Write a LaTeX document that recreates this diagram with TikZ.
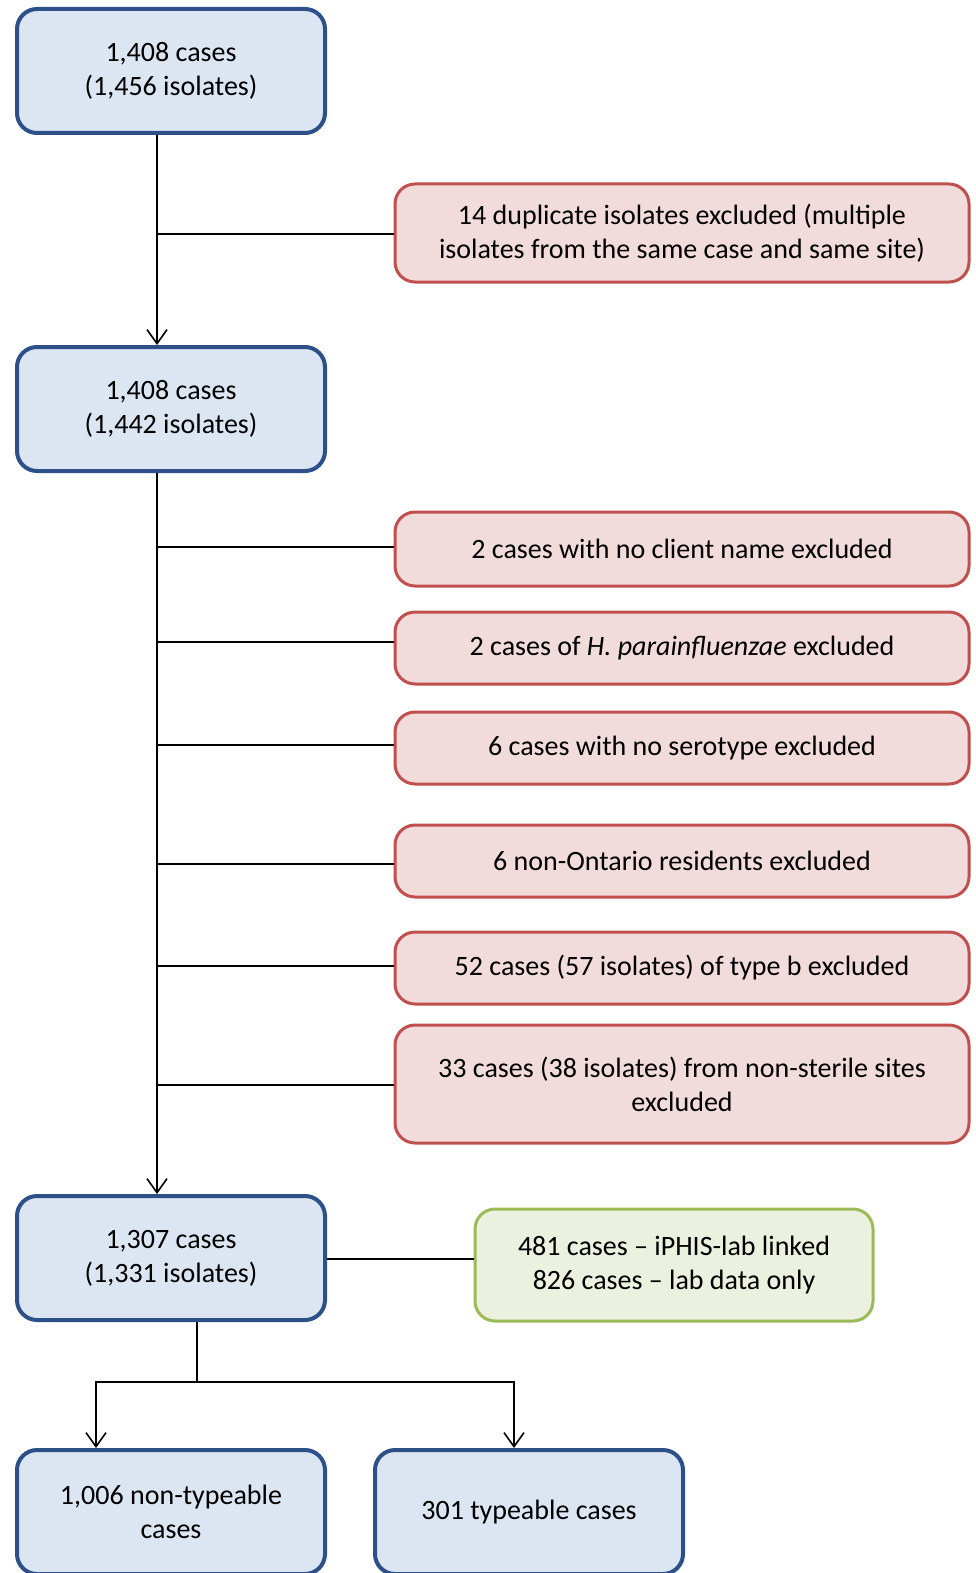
\documentclass[tikz,border=0pt]{standalone}
\usepackage{fontspec}
\setmainfont{Carlito}
\usetikzlibrary{arrows.meta, positioning}
\definecolor{casefill}{HTML}{DCE6F2}
\definecolor{casedraw}{HTML}{2C5087}
\definecolor{exclfill}{HTML}{F2DCDB}
\definecolor{excldraw}{HTML}{C0504D}
\definecolor{linkfill}{HTML}{EBF1DE}
\definecolor{linkdraw}{HTML}{9BBB59}
\tikzset{
    x=0.5pt, y=-0.5pt,
    box/.style = {rectangle, rounded corners=10pt, inner sep=0pt, align=center,
                  font=\fontsize{14}{17}\selectfont},
    cases/.style = {box, draw=casedraw, fill=casefill, line width=2pt,
                    minimum width=154pt, minimum height=62pt},
    excl/.style = {box, draw=excldraw, fill=exclfill, line width=1.5pt,
                   minimum width=287pt}, % red boxes on the right
    linked/.style = {box, draw=linkdraw, fill=linkfill, line width=1.5pt,
                     minimum width=199pt, minimum height=56pt},
    conn/.style = {line width=0.8pt},
    arr/.style = {conn, -{Straight Barb[length=7pt, width=10pt, line width=0.8pt]}}
}
\begin{document}
\begin{tikzpicture}
    \useasboundingbox (0,0) rectangle (975,1573);
    \clip (0,0) rectangle (975,1573);
    % main column
    \node[cases] (c1) at (171,71) {1,408 cases\\(1,456 isolates)};
    \node[cases] (c2) at (171,409) {1,408 cases\\(1,442 isolates)};
    \node[cases] (c3) at (171,1258) {1,307 cases\\(1,331 isolates)};
    \node[cases] (c4) at (171,1512) {1,006 non-typeable\\cases};
    \node[cases] (c5) at (529,1512) {301 typeable cases};
    \coordinate (trunk) at (157,0);
    % exclusions
    \node[excl, minimum height=49pt] (e1) at (682,233) {14 duplicate isolates excluded (multiple\\isolates from the same case and same site)};
    \node[excl, minimum height=37pt] (e2) at (682,549) {2 cases with no client name excluded};
    \node[excl, minimum height=36pt] (e3) at (682,648) {2 cases of \textit{H. parainfluenzae} excluded};
    \node[excl, minimum height=36pt] (e4) at (682,748) {6 cases with no serotype excluded};
    \node[excl, minimum height=36pt] (e5) at (682,861) {6 non-Ontario residents excluded};
    \node[excl, minimum height=36pt] (e6) at (682,968) {52 cases (57 isolates) of type b excluded};
    \node[excl, minimum height=59pt] (e7) at (682,1084) {33 cases (38 isolates) from non-sterile sites\\excluded};
    \node[linked] (g1) at (674,1265) {481 cases -- iPHIS-lab linked\\826 cases -- lab data only};
    % connectors
    \draw[arr] (c1.south -| trunk) -- (c2.north -| trunk);
    \draw[arr] (c2.south -| trunk) -- (c3.north -| trunk);
    \foreach \e/\y in {e1/234, e2/547, e3/642, e4/745, e5/864, e6/966, e7/1085}
        \draw[conn] (157,\y) -- (\e.west |- 0,\y);
    \draw[conn] (c3.east |- 0,1259) -- (g1.west |- 0,1259);
    \coordinate (split) at (197,1382);
    \draw[conn] (c3.south -| split) -- (split);
    \draw[arr] (split) -| ([xshift=-37.5pt]c4.north);
    \draw[arr] (split) -| ([xshift=-7.5pt]c5.north);
\end{tikzpicture}
\end{document}
